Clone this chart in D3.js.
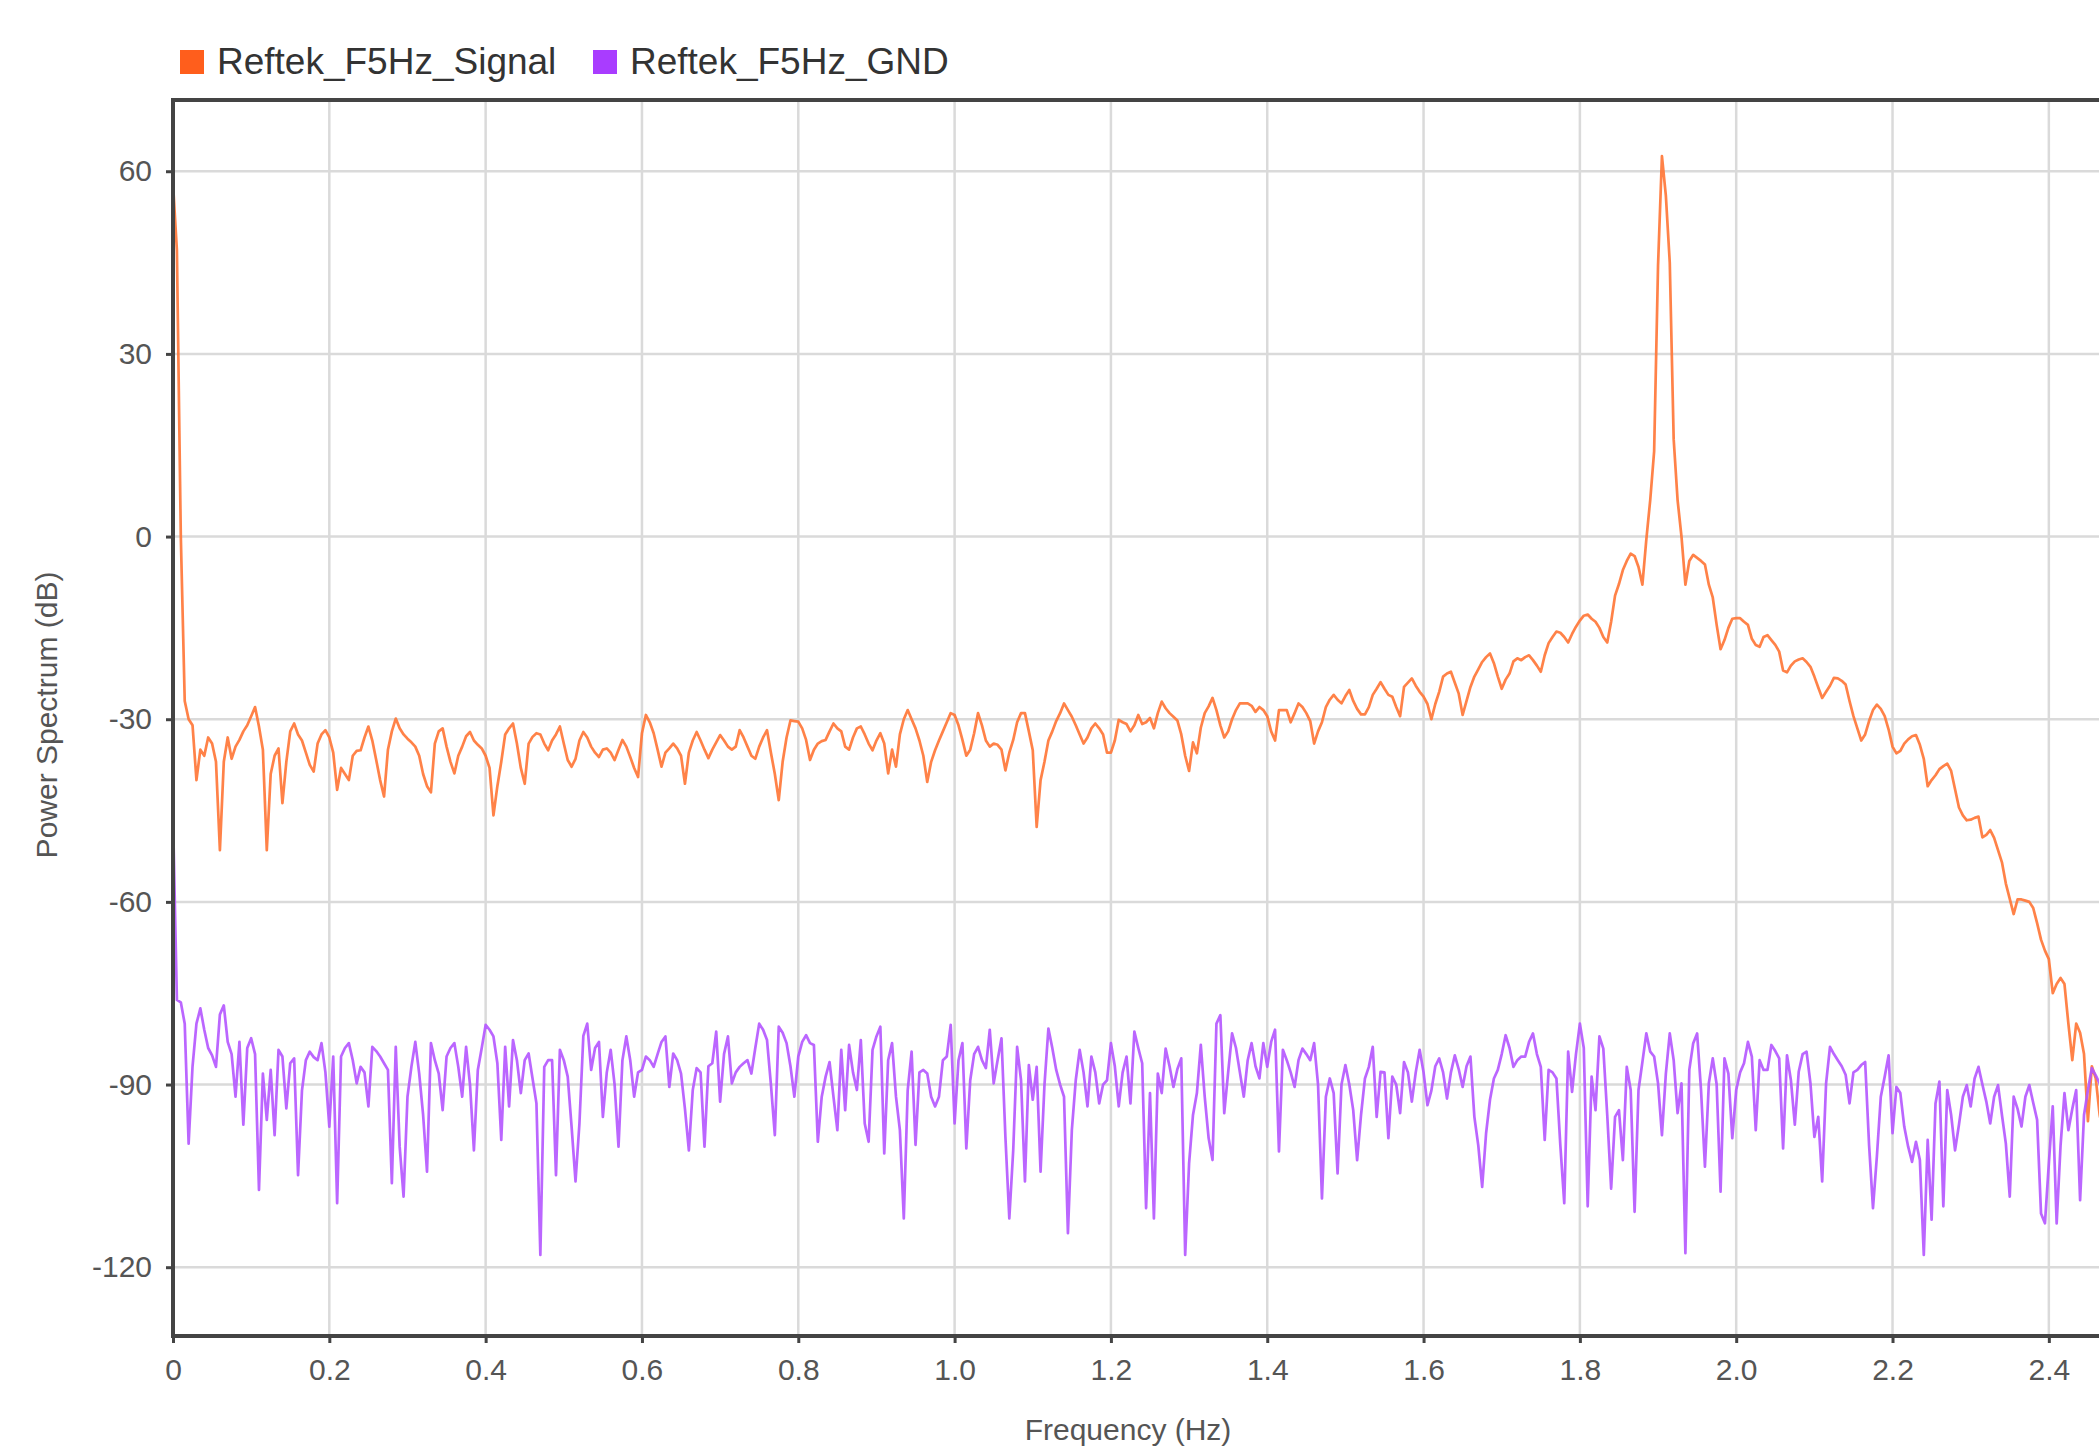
<!DOCTYPE html>

<head>
    <meta charset="utf-8">
    <title>Power Spectrum</title>
    <script type="text/javascript" src="https://d3js.org/d3.v7.min.js"></script>
    <style>
        body { margin: 0; background: #fff; }
        svg { display: block; font-family: "Liberation Sans", Arial, sans-serif; }
    </style>
</head>

<body>
    <div id="container"></div>
    <script>
        //------------------------1. DATA------------------------//
        var seriesNames = ["Reftek_F5Hz_Signal", "Reftek_F5Hz_GND"];
        var binWidth = 0.005; // Hz between spectrum bins, first bin at 0 Hz

        // power spectrum of the signal channel (dB), one value per bin
        var signalDb = [
            58, 47, 0, -27, -30, -31, -40, -35, -36, -33, -34, -37, -51.5, -37, -33, -36.5, -34.5, -33.4, -32, -31,
            -29.5, -28, -31.2, -35, -51.5, -39, -36, -34.8, -43.8, -37, -32, -30.7, -32.5, -33.5, -35.5, -37.5, -38.6, -34, -32.5, -31.8,
            -33, -35.5, -41.6, -38, -39, -40, -36, -35.2, -35.1, -33, -31.2, -33.5, -36.7, -40, -42.7, -35, -32, -29.9, -31.5, -32.5,
            -33.2, -33.8, -34.5, -36, -39, -41, -42, -34, -32, -31.5, -34.5, -37, -38.9, -36, -34.5, -32.8, -32.1, -33.5, -34.2, -34.8,
            -36, -38, -45.8, -41, -37, -32.5, -31.5, -30.7, -34, -38, -40.6, -34, -32.9, -32.3, -32.5, -34, -35.1, -33.5, -32.5, -31.2,
            -34, -36.7, -37.8, -36.5, -33.5, -32.1, -33, -34.5, -35.5, -36.2, -35, -34.8, -35.5, -36.7, -35, -33.4, -34.5, -36.2, -38, -39.5,
            -32.3, -29.3, -30.5, -32.3, -35, -37.8, -35.5, -34.8, -34, -34.8, -36, -40.6, -35.5, -33.5, -32.1, -33.5, -35, -36.4, -35, -33.8,
            -32.6, -33.5, -34.5, -35, -34.5, -31.8, -33, -34.5, -36, -36.5, -34.5, -33, -31.8, -35.5, -39, -43.3, -37, -33, -30.2, -30.3,
            -30.4, -31.5, -33.4, -36.7, -35, -34, -33.6, -33.4, -32, -30.7, -31.5, -32, -34.5, -35, -33, -31.5, -31.2, -32.5, -34, -35.1,
            -33.5, -32.3, -34, -38.9, -35, -37.8, -32.5, -30, -28.5, -30, -31.5, -33.5, -36, -40.3, -37, -35.1, -33.5, -32, -30.5, -29,
            -29.3, -31, -33.4, -36, -35, -32.3, -29, -31, -33.5, -34.5, -34, -34.2, -35, -38.4, -35.5, -33.4, -30.5, -29, -29, -32,
            -35.1, -47.7, -40, -37, -33.5, -32, -30.3, -29, -27.4, -28.5, -29.6, -31, -32.5, -34, -33, -31.5, -30.7, -31.5, -32.5, -35.5,
            -35.5, -33.5, -30.1, -30.5, -30.8, -32, -31, -29.3, -30.8, -30.5, -29.8, -31.5, -29, -27.1, -28.2, -29, -29.6, -30.2, -32.5, -36,
            -38.5, -33.8, -35.6, -31.4, -29, -27.9, -26.5, -28.5, -31, -33, -32, -30, -28.5, -27.4, -27.4, -27.4, -27.8, -28.8, -28, -28.5,
            -29.5, -32, -33.5, -28.5, -28.5, -28.5, -30.5, -29, -27.4, -28, -29, -30.3, -34, -32, -30.5, -28, -26.8, -26, -26.8, -27.4,
            -26.2, -25.2, -27, -28.3, -29.2, -29.2, -28, -26, -25, -23.9, -25, -26, -26.3, -28, -29.5, -24.7, -24, -23.3, -24.5, -25.5,
            -26.3, -27.5, -30, -27.5, -25.5, -23, -22.5, -22.2, -24, -25.8, -29.3, -27, -24.7, -23, -21.8, -20.6, -19.8, -19.2, -20.8, -23,
            -25, -23.5, -22.5, -20.5, -20, -20.3, -19.8, -19.5, -20.3, -21.2, -22.2, -19.5, -17.5, -16.5, -15.6, -15.8, -16.5, -17.4, -16, -14.8,
            -13.8, -13, -12.8, -13.5, -14, -15, -16.5, -17.4, -14, -9.7, -7.8, -5.5, -4, -2.8, -3.2, -5, -7.9, -0.5, 6, 14,
            44.5, 62.5, 56, 45, 16, 6, 0, -7.9, -4, -3, -3.5, -4, -4.6, -7.9, -10, -14.5, -18.5, -17, -15, -13.5,
            -13.4, -13.4, -14, -14.5, -16.8, -17.8, -18.1, -16.5, -16.2, -17, -17.8, -18.9, -22, -22.3, -21.2, -20.5, -20.2, -20, -20.6, -21.4,
            -23, -24.8, -26.5, -25.5, -24.5, -23.2, -23.3, -23.7, -24.3, -27, -29.5, -31.5, -33.5, -32.5, -30.3, -28.5, -27.6, -28.3, -29.5, -31.7,
            -34.5, -35.6, -35.2, -34, -33.3, -32.8, -32.6, -34.2, -36.5, -41, -40, -39.2, -38.2, -37.7, -37.3, -38.5, -41.5, -44.5, -45.8, -46.6,
            -46.5, -46.2, -46, -49.4, -49, -48.2, -49.5, -51.5, -53.5, -57, -59.5, -62, -59.6, -59.6, -59.8, -60, -61, -63.5, -66.2, -68,
            -69.4, -75, -73.5, -72.5, -73.5, -80, -86, -80, -81.5, -85, -96, -87, -89, -95, -98, -92, -95, -97, -99, -98, -100
        ];

        // power spectrum of the grounded channel (dB), same bins
        var gndDb = [
            -46, -76.1, -76.5, -80, -99.7, -87, -80, -77.5, -81, -84, -85.2, -87.1, -78.5, -77, -83, -85, -92, -83, -96.6, -84,
            -82.4, -85, -107.3, -88.2, -95.8, -87.6, -98.3, -84.3, -85.4, -93.9, -86.5, -85.7, -104.9, -91, -86, -84.6, -85.5, -86, -83.2, -88,
            -96.9, -85.4, -109.5, -85.4, -84, -83.2, -86, -89.8, -87.1, -88, -93.6, -83.8, -84.5, -85.4, -86.5, -87.6, -106.2, -83.8, -100.2, -108.4,
            -92, -87.1, -83, -88.2, -95, -104.3, -83.2, -86, -88.2, -94.2, -85.4, -84, -83.2, -87.1, -92, -83.8, -90, -100.8, -87.6, -84,
            -80.2, -81, -82.1, -86.5, -99.1, -83.8, -93.6, -82.7, -86, -91.4, -86, -84.9, -89, -93.1, -118, -87.1, -86, -86, -104.9, -84.3,
            -86, -88.7, -97, -105.9, -96.4, -82, -80, -87.6, -84, -83, -95.3, -88, -84.3, -90, -100.2, -86, -82.1, -86, -92, -88,
            -87.6, -85.4, -86, -87.1, -85, -83, -82.1, -90.4, -84.9, -86, -88.2, -94, -100.8, -90.9, -87.3, -88, -100.2, -87, -86.5, -81.3,
            -92.8, -85, -82.1, -89.8, -88, -87.1, -86.5, -86, -88.2, -84, -80, -81, -82.7, -90, -98.3, -80.5, -81.5, -83.2, -87, -92,
            -85.4, -83, -81.9, -83.2, -83.5, -99.4, -92, -88.7, -86.3, -92, -97.5, -84.3, -94.2, -83.5, -88, -90.9, -82.7, -96.4, -99.4, -84.3,
            -82.1, -80.5, -101.3, -86, -83.2, -92, -97.5, -112, -90.9, -84.6, -99.9, -88, -87.6, -88.2, -92, -93.6, -92, -86, -85.4, -80.2,
            -96.4, -86, -83.2, -100.5, -89.3, -85, -83.8, -86, -87.3, -81, -89.8, -86, -82.4, -98.6, -112, -100.8, -83.8, -89.3, -105.9, -86.8,
            -92.5, -87.1, -104.3, -90, -80.8, -84, -87.6, -90, -92, -114.4, -97.5, -89.3, -84.3, -88, -93.6, -85.4, -88, -93.1, -90, -89.3,
            -83.2, -87, -93.6, -88, -85.4, -93.1, -81.3, -84, -86.5, -110.3, -91.4, -112, -88.2, -91.4, -84.1, -87, -90.4, -87.5, -85.7, -118,
            -103, -95, -91.4, -83.5, -92, -98.8, -102.4, -80, -78.6, -94.7, -88, -81.6, -84, -88, -92, -86, -83.2, -87, -89, -83.2,
            -87.1, -83, -81, -101, -84.3, -86, -88, -90.4, -86, -84.1, -85, -86, -83.2, -90, -108.7, -92, -89, -91.4, -104.6, -90,
            -86.8, -90, -94.2, -102.4, -95, -89, -87.1, -83.8, -95.3, -87.9, -88, -98.8, -88.7, -90, -94.7, -86.3, -88, -92.8, -88, -84.3,
            -88, -93.4, -91, -87, -85.7, -88, -92.3, -88, -85.2, -87.5, -90.4, -87, -85.4, -95.3, -100, -106.8, -98, -92.5, -89, -87.6,
            -85, -81.9, -84, -87.1, -86, -85.4, -85.4, -83, -81.6, -85, -87.1, -99.1, -87.6, -88, -89, -100, -109.5, -84.6, -91.2, -85,
            -80, -84, -110, -88.7, -94.2, -82.1, -84.1, -95, -107.1, -95.3, -94.2, -102.4, -87.1, -90.9, -110.9, -90.9, -86.3, -81.6, -84.6, -85.4,
            -89.8, -98.3, -88.2, -81.6, -86, -94.7, -89.8, -117.7, -87.6, -83.2, -81.6, -90.9, -103.5, -89.8, -85.7, -90, -107.6, -85.7, -88.2, -98.8,
            -90.9, -88, -86.5, -83, -85.4, -97.5, -86, -87.6, -87.6, -83.5, -84.5, -85.7, -100.5, -85.2, -89.3, -96.6, -87.9, -85, -84.6, -89.8,
            -98.6, -95.3, -105.9, -89.8, -83.8, -85, -86, -87, -88.4, -93.1, -88, -87.6, -86.8, -86.3, -99.9, -110.3, -101.8, -92, -88.7, -85.2,
            -98, -90.4, -91.4, -96.9, -100.2, -102.7, -99.4, -102.4, -118, -99.1, -112.2, -93.1, -89.5, -110, -90.9, -95, -100.8, -96.6, -92, -90.1,
            -93.6, -89, -87.1, -90, -92.8, -96.4, -92, -90.1, -95, -99.7, -108.4, -92, -94, -96.9, -92, -90.1, -93, -95.8, -111.2, -112.8,
            -103, -93.6, -112.8, -100, -91.4, -97.5, -94, -90.9, -109, -95, -90.9, -87.3, -88.5, -89.8, -92, -95, -90, -100, -92, -96, -94
        ];

        var xTicks = [0, 0.2, 0.4, 0.6, 0.8, 1.0, 1.2, 1.4, 1.6, 1.8, 2.0, 2.2, 2.4];
        var xTickLabels = ["0", "0.2", "0.4", "0.6", "0.8", "1.0", "1.2", "1.4", "1.6", "1.8", "2.0", "2.2", "2.4"];
        var yTicks = [60, 30, 0, -30, -60, -90, -120];

        //------------------------2. PREPARATION------------------------//
        var W = 2099, H = 1449,
            plot = { left: 173, top: 100, right: 2127, bottom: 1336 },
            lineColor = ["#ff7434", "#b455ff"],
            swatchColor = ["#ff5e1c", "#a93cff"];

        var x = d3.scaleLinear().domain([0, 2.5]).range([plot.left, plot.right]);
        var y = d3.scaleLinear().domain([-131.3, 71.7]).range([plot.bottom, plot.top]);

        var svg = d3.select("div#container").append("svg")
            .attr("width", W).attr("height", H);

        svg.append("defs").append("clipPath").attr("id", "plotclip")
            .append("rect")
            .attr("x", plot.left).attr("y", plot.top)
            .attr("width", plot.right - plot.left).attr("height", plot.bottom - plot.top);

        //-----------------------------GRID-----------------------------//
        var grid = svg.append("g");
        grid.selectAll(".vgrid").data(xTicks).enter().append("line")
            .attr("x1", function (d) { return x(d); }).attr("x2", function (d) { return x(d); })
            .attr("y1", plot.top).attr("y2", plot.bottom)
            .attr("stroke", "#dadada").attr("stroke-width", 2.5);
        grid.selectAll(".hgrid").data(yTicks).enter().append("line")
            .attr("x1", plot.left).attr("x2", plot.right)
            .attr("y1", function (d) { return y(d); }).attr("y2", function (d) { return y(d); })
            .attr("stroke", "#dadada").attr("stroke-width", 2.5);

        //-----------------------------LINES-----------------------------//
        var line = d3.line()
            .x(function (d, i) { return x(i * binWidth); })
            .y(function (d) { return y(d); });

        var lines = svg.append("g").attr("clip-path", "url(#plotclip)");
        [signalDb, gndDb].forEach(function (series, k) {
            lines.append("path")
                .datum(series)
                .attr("d", line)
                .attr("fill", "none")
                .attr("stroke", lineColor[k])
                .attr("stroke-opacity", 0.9)
                .attr("stroke-width", 2.7)
                .attr("stroke-linejoin", "round");
        });

        //-----------------------------AXES-----------------------------//
        var xaxis = d3.axisBottom(x).tickValues(xTicks)
            .tickFormat(function (d, i) { return xTickLabels[i]; })
            .tickSize(7).tickPadding(16);
        var yaxis = d3.axisLeft(y).tickValues(yTicks)
            .tickFormat(function (d) { return String(d); }) // plain hyphen minus, as in the original
            .tickSize(7).tickPadding(14);

        var gx = svg.append("g").attr("transform", "translate(0," + plot.bottom + ")").call(xaxis);
        var gy = svg.append("g").attr("transform", "translate(" + plot.left + ",0)").call(yaxis);
        [gx, gy].forEach(function (g) {
            g.select(".domain").remove();
            g.selectAll(".tick line").attr("stroke", "#444").attr("stroke-width", 3);
            g.selectAll(".tick text").attr("fill", "#555").style("font-size", "30px")
                .style("font-family", "'Liberation Sans', Arial, sans-serif");
        });

        // frame round the plot
        svg.append("rect")
            .attr("x", plot.left).attr("y", plot.top)
            .attr("width", plot.right - plot.left).attr("height", plot.bottom - plot.top)
            .attr("fill", "none").attr("stroke", "#444").attr("stroke-width", 4);

        // axis titles
        svg.append("text")
            .attr("transform", "translate(46," + ((plot.top + plot.bottom) / 2 - 3) + ") rotate(-90)")
            .attr("text-anchor", "middle").attr("dominant-baseline", "central")
            .attr("fill", "#555").style("font-size", "30px")
            .text("Power Spectrum (dB)");
        svg.append("text")
            .attr("x", 1128).attr("y", 1440)
            .attr("text-anchor", "middle")
            .attr("fill", "#555").style("font-size", "30px")
            .text("Frequency (Hz)");

        //-----------------------------LEGEND-----------------------------//
        var legendX = [180, 593];
        var legend = svg.append("g");
        seriesNames.forEach(function (name, k) {
            legend.append("rect")
                .attr("x", legendX[k]).attr("y", 50)
                .attr("width", 24).attr("height", 24)
                .attr("fill", swatchColor[k]);
            legend.append("text")
                .attr("x", legendX[k] + 37).attr("y", 74)
                .attr("fill", "#333").style("font-size", "37px")
                .text(name);
        });
    </script>
</body>
